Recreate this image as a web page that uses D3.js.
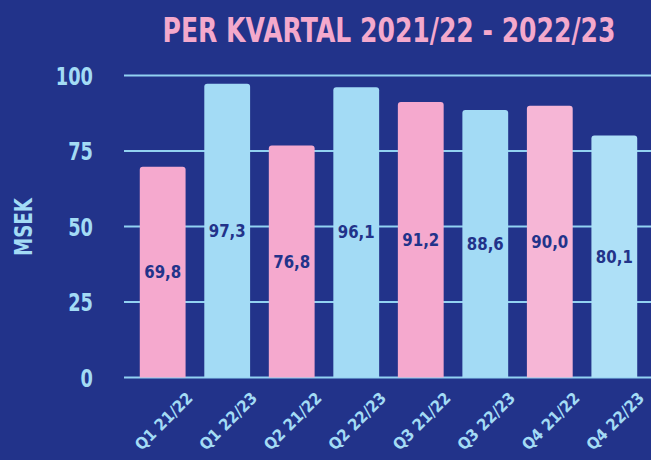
<!DOCTYPE html>
<html>
<head>
<meta charset="utf-8">
<script src="https://cdn.jsdelivr.net/npm/d3@7"></script>
<style>
  html, body { margin: 0; padding: 0; background: #22338a; }
  svg { display: block; }
  text { font-family: "DejaVu Sans", sans-serif; font-weight: bold; }
</style>
</head>
<body>
<svg width="651" height="460"></svg>
<script>
// data
const quarters = ["Q1 21/22", "Q1 22/23", "Q2 21/22", "Q2 22/23", "Q3 21/22", "Q3 22/23", "Q4 21/22", "Q4 22/23"];
const values = [69.8, 97.3, 76.8, 96.1, 91.2, 88.6, 90.0, 80.1];
const barColors = ["#f5a9ce", "#a3dbf5", "#f5a9ce", "#a3dbf5", "#f5a9ce", "#a3dbf5", "#f6b6d6", "#aee0f7"];
const yTicks = [0, 25, 50, 75, 100];

const svg = d3.select("svg");
const light = "#a3dbf5";
const navy = "#22338a";

let x = d3.scaleBand().domain(quarters).range([123, 654]).paddingInner(0.29).paddingOuter(0.26);
let y = d3.scaleLinear().domain([0, 100]).range([377.5, 75.5]);

// squeeze a text horizontally so it fits a given width (the original font is condensed)
function squeeze(sel, cx, cy, width, rot = 0) {
    let len = sel.node().getComputedTextLength();
    sel.attr("transform", `translate(${cx},${cy}) rotate(${rot}) scale(${Math.min(1, width / len)},1)`);
}

// title
let title = svg.append("text")
    .attr("text-anchor", "middle")
    .attr("fill", "#f4a9cc")
    .attr("font-size", 33)
    .text("PER KVARTAL 2021/22 - 2022/23");
squeeze(title, 389, 42, 453);

// gridlines
svg.append("g").selectAll("line")
    .data(yTicks)
    .join("line")
    .attr("x1", 124).attr("x2", 651)
    .attr("y1", d => y(d)).attr("y2", d => y(d))
    .attr("stroke", "#92d2f1")
    .attr("stroke-width", 2);

// y tick labels
svg.append("g").selectAll("text")
    .data(yTicks)
    .join("text")
    .attr("text-anchor", "end")
    .attr("fill", light)
    .attr("font-size", 24)
    .text(d => d)
    .each(function (d) {
        squeeze(d3.select(this), 93, y(d) + 9, String(d).length * 12.4);
    });

// y axis title
let yTitle = svg.append("text")
    .attr("text-anchor", "middle")
    .attr("fill", light)
    .attr("font-size", 25)
    .text("MSEK");
squeeze(yTitle, 32, 227, 58, -90);

// bars with rounded tops
function barPath(x0, y0, w, h, r) {
    return `M${x0},${y0 + h}V${y0 + r}Q${x0},${y0} ${x0 + r},${y0}H${x0 + w - r}Q${x0 + w},${y0} ${x0 + w},${y0 + r}V${y0 + h}Z`;
}

svg.append("g").selectAll("path")
    .data(values)
    .join("path")
    .attr("d", (d, i) => barPath(x(quarters[i]), y(d), x.bandwidth(), y(0) - y(d), 3))
    .attr("fill", (d, i) => barColors[i]);

// value labels
svg.append("g").selectAll("text")
    .data(values)
    .join("text")
    .attr("text-anchor", "middle")
    .attr("fill", navy)
    .attr("font-size", 17)
    .text(d => d.toFixed(1).replace(".", ","))
    .each(function (d, i) {
        squeeze(d3.select(this), x(quarters[i]) + x.bandwidth() / 2, (y(d) + y(0)) / 2 + 6, 37);
    });

// x tick labels
svg.append("g").selectAll("text")
    .data(quarters)
    .join("text")
    .attr("text-anchor", "end")
    .attr("fill", light)
    .attr("font-size", 16)
    .text(d => d)
    .each(function (d) {
        squeeze(d3.select(this), x(d) + x.bandwidth() / 2 + 31, 399, 74, -45);
    });
</script>
</body>
</html>
